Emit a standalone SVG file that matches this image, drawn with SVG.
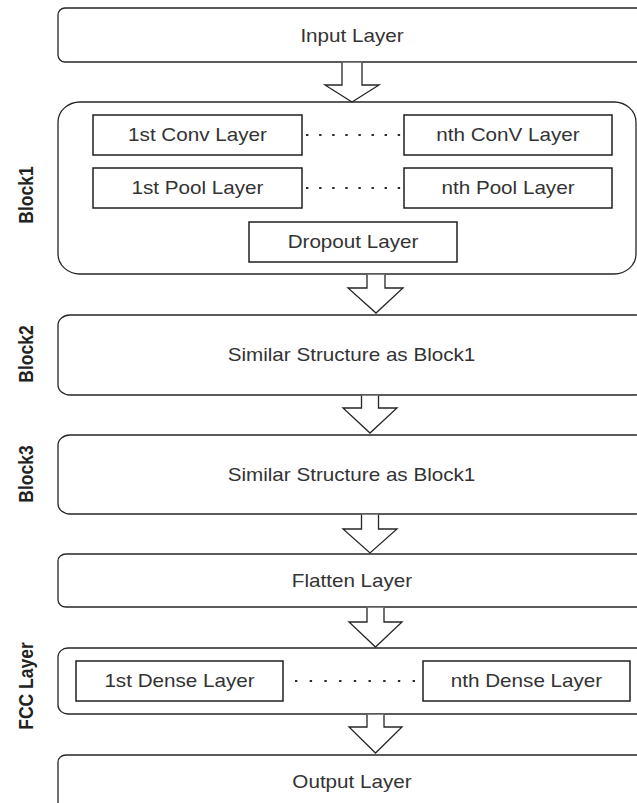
<svg xmlns="http://www.w3.org/2000/svg" width="637" height="803" viewBox="0 0 637 803">
  <style>
    .box { fill: #ffffff; stroke: #262626; stroke-width: 1.3; }
    .inner { fill: #ffffff; stroke: #1f1f1f; stroke-width: 1.5; }
    .t { font-family: "Liberation Sans", Arial, sans-serif; font-size: 17.5px; fill: #333333; text-anchor: middle; }
    .lbl { font-family: "Liberation Sans", Arial, sans-serif; font-size: 17.5px; font-weight: bold; fill: #222222; text-anchor: middle; }
    .arrow { fill: #ffffff; stroke: #262626; stroke-width: 1.3; stroke-linejoin: miter; }
    .dots { fill: none; stroke: #2a2a2a; stroke-width: 2.2; }
  </style>
  <rect width="637" height="803" fill="#ffffff"/>

  <!-- side labels -->
  <g id="labels">
    <text class="lbl" transform="translate(33 195) scale(1.2 1) rotate(-90)">Block1</text>
    <text class="lbl" transform="translate(33 354) scale(1.2 1) rotate(-90)">Block2</text>
    <text class="lbl" transform="translate(33 474) scale(1.2 1) rotate(-90)">Block3</text>
    <text class="lbl" transform="translate(33 686) scale(1.2 1) rotate(-90)">FCC Layer</text>
  </g>

  <g id="input-layer">
    <rect class="box" x="58" y="8" width="590" height="54" rx="7" ry="7"/>
    <text class="t" transform="translate(352 36) scale(1.18 1)" y="6">Input Layer</text>
  </g>

  <g id="block1">
    <rect class="box" x="58" y="102" width="578" height="172" rx="22" ry="20"/>
    <g id="conv-first">
      <rect class="inner" x="93" y="115" width="209" height="40"/>
      <text class="t" transform="translate(197.5 135) scale(1.18 1)" y="6">1st Conv Layer</text>
    </g>
    <g id="conv-nth">
      <rect class="inner" x="404" y="115" width="208" height="40"/>
      <text class="t" transform="translate(508 135) scale(1.18 1)" y="6">nth ConV Layer</text>
    </g>
    <g id="pool-first">
      <rect class="inner" x="93" y="168" width="209" height="40"/>
      <text class="t" transform="translate(197.5 188) scale(1.18 1)" y="6">1st Pool Layer</text>
    </g>
    <g id="pool-nth">
      <rect class="inner" x="404" y="168" width="208" height="40"/>
      <text class="t" transform="translate(508 188) scale(1.18 1)" y="6">nth Pool Layer</text>
    </g>
    <g id="dropout">
      <rect class="inner" x="249" y="222" width="208" height="40"/>
      <text class="t" transform="translate(353 242) scale(1.18 1)" y="6">Dropout Layer</text>
    </g>
  </g>

  <g id="block2">
    <rect class="box" x="58" y="315" width="590" height="80" rx="12" ry="10"/>
    <text class="t" transform="translate(351.5 355) scale(1.18 1)" y="6">Similar Structure as Block1</text>
  </g>

  <g id="block3">
    <rect class="box" x="58" y="435" width="590" height="79" rx="12" ry="10"/>
    <text class="t" transform="translate(351.5 475) scale(1.18 1)" y="6">Similar Structure as Block1</text>
  </g>

  <g id="flatten-layer">
    <rect class="box" x="58" y="554" width="590" height="53" rx="8" ry="7"/>
    <text class="t" transform="translate(352 581) scale(1.18 1)" y="6">Flatten Layer</text>
  </g>

  <g id="fcc-layer">
    <rect class="box" x="58" y="648" width="590" height="66" rx="10" ry="9"/>
    <g id="dense-first">
      <rect class="inner" x="76" y="661" width="207" height="40"/>
      <text class="t" transform="translate(179.5 681) scale(1.18 1)" y="6">1st Dense Layer</text>
    </g>
    <g id="dense-nth">
      <rect class="inner" x="423" y="661" width="207" height="40"/>
      <text class="t" transform="translate(526.5 681) scale(1.18 1)" y="6">nth Dense Layer</text>
    </g>
  </g>

  <g id="output-layer">
    <rect class="box" x="58" y="755" width="590" height="70" rx="8" ry="7"/>
    <text class="t" transform="translate(352 782) scale(1.18 1)" y="6">Output Layer</text>
  </g>

  <!-- block arrows between stages, and dotted links inside the rows -->
  <g id="connectors">
    <path class="arrow" d="M342 62.7 V85 H325 L352 102 L379 85 H362 V62.7"/>
    <path class="arrow" d="M367 274.7 V288 H348 L376 313 L403 288 H385 V274.7"/>
    <path class="arrow" d="M361.5 395.7 V408 H343 L370 433 L397 408 H378.5 V395.7"/>
    <path class="arrow" d="M361.5 514.7 V529 H343 L370 553 L397 529 H378.5 V514.7"/>
    <path class="arrow" d="M367 607.7 V622 H349 L375.5 647 L402 622 H384 V607.7"/>
    <path class="arrow" d="M367 714.7 V727 H349 L375.5 753 L402 727 H384 V714.7"/>
    <line class="dots" x1="306" y1="135" x2="404" y2="135" stroke-dasharray="2.4 10.7"/>
    <line class="dots" x1="306" y1="188" x2="404" y2="188" stroke-dasharray="2.4 10.7"/>
    <line class="dots" x1="295" y1="681" x2="423" y2="681" stroke-dasharray="2.4 12.3"/>
  </g>
</svg>
